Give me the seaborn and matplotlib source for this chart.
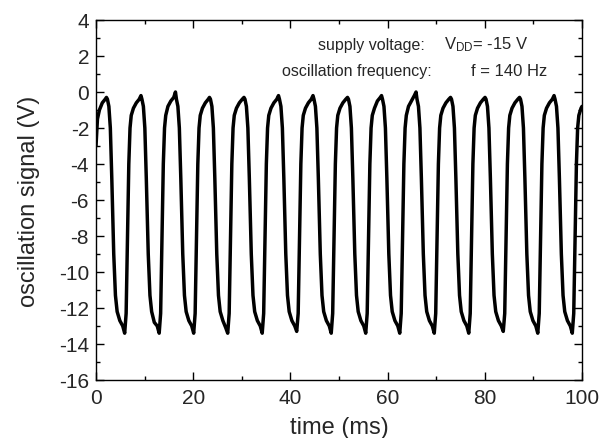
import matplotlib
matplotlib.use("Agg")
import matplotlib.pyplot as plt
from matplotlib.ticker import MultipleLocator
import seaborn as sns
import pandas as pd

# Oscillation trace (time in ms, signal in V), one cycle per line
time_ms = [
    0.00, 0.30, 0.70, 1.30, 1.90,
    2.15, 2.35, 2.65, 2.95, 3.25, 3.65, 4.00, 4.35, 4.90, 5.50, 5.90, 6.20, 6.45, 6.75, 7.00, 7.25, 7.70, 8.30, 8.90,
    9.25, 9.45, 9.75, 10.05, 10.35, 10.75, 11.10, 11.45, 12.00, 12.60, 13.00, 13.30, 13.55, 13.85, 14.10, 14.35, 14.80, 15.40, 16.00,
    16.35, 16.55, 16.85, 17.15, 17.45, 17.85, 18.20, 18.55, 19.10, 19.70, 20.10, 20.40, 20.65, 20.95, 21.20, 21.45, 21.90, 22.50, 23.10,
    23.35, 23.55, 23.85, 24.15, 24.45, 24.85, 25.20, 25.55, 26.10, 26.70, 27.10, 27.40, 27.65, 27.95, 28.20, 28.45, 28.90, 29.50, 30.10,
    30.45, 30.65, 30.95, 31.25, 31.55, 31.95, 32.30, 32.65, 33.20, 33.80, 34.20, 34.50, 34.75, 35.05, 35.30, 35.55, 36.00, 36.60, 37.20,
    37.55, 37.75, 38.05, 38.35, 38.65, 39.05, 39.40, 39.75, 40.30, 40.90, 41.30, 41.60, 41.85, 42.15, 42.40, 42.65, 43.10, 43.70, 44.30,
    44.65, 44.85, 45.15, 45.45, 45.75, 46.15, 46.50, 46.85, 47.40, 48.00, 48.40, 48.70, 48.95, 49.25, 49.50, 49.75, 50.20, 50.80, 51.40,
    51.75, 51.95, 52.25, 52.55, 52.85, 53.25, 53.60, 53.95, 54.50, 55.10, 55.50, 55.80, 56.05, 56.35, 56.60, 56.85, 57.30, 57.90, 58.50,
    58.75, 58.95, 59.25, 59.55, 59.85, 60.25, 60.60, 60.95, 61.50, 62.10, 62.50, 62.80, 63.05, 63.35, 63.60, 63.85, 64.30, 64.90, 65.50,
    65.85, 66.05, 66.35, 66.65, 66.95, 67.35, 67.70, 68.05, 68.60, 69.20, 69.60, 69.90, 70.15, 70.45, 70.70, 70.95, 71.40, 72.00, 72.60,
    72.95, 73.15, 73.45, 73.75, 74.05, 74.45, 74.80, 75.15, 75.70, 76.30, 76.70, 77.00, 77.25, 77.55, 77.80, 78.05, 78.50, 79.10, 79.70,
    80.05, 80.25, 80.55, 80.85, 81.15, 81.55, 81.90, 82.25, 82.80, 83.40, 83.80, 84.10, 84.35, 84.65, 84.90, 85.15, 85.60, 86.20, 86.80,
    87.15, 87.35, 87.65, 87.95, 88.25, 88.65, 89.00, 89.35, 89.90, 90.50, 90.90, 91.20, 91.45, 91.75, 92.00, 92.25, 92.70, 93.30, 93.90,
    94.25, 94.45, 94.75, 95.05, 95.35, 95.75, 96.10, 96.45, 97.00, 97.60, 98.00, 98.30, 98.55, 98.85, 99.10, 99.35, 99.80, 100.00,
]
signal_v = [
    -3.0, -1.5, -1.0, -0.6, -0.4,
    -0.3, -0.4, -0.8, -2.0, -4.8, -9.0, -11.3, -12.2, -12.7, -13.0, -13.4, -12.3, -8.5, -4.0, -2.0, -1.3, -0.9, -0.6, -0.4,
    -0.2, -0.4, -0.8, -2.0, -4.8, -9.0, -11.3, -12.2, -12.8, -13.0, -13.4, -12.3, -8.5, -4.0, -2.0, -1.3, -0.8, -0.5, -0.3,
    0.0, -0.4, -0.8, -2.0, -4.8, -9.0, -11.3, -12.2, -12.7, -13.0, -13.4, -12.3, -8.5, -4.0, -2.0, -1.3, -0.9, -0.6, -0.4,
    -0.3, -0.4, -0.8, -2.0, -4.8, -9.0, -11.3, -12.2, -12.7, -13.1, -13.4, -12.3, -8.5, -4.0, -2.0, -1.3, -0.9, -0.6, -0.4,
    -0.3, -0.4, -0.8, -2.0, -4.8, -9.0, -11.3, -12.2, -12.7, -13.0, -13.4, -12.3, -8.5, -4.0, -2.0, -1.3, -0.9, -0.6, -0.4,
    -0.2, -0.4, -0.8, -2.0, -4.8, -9.0, -11.3, -12.2, -12.7, -13.0, -13.3, -12.3, -8.5, -4.0, -2.0, -1.3, -0.9, -0.6, -0.4,
    -0.2, -0.4, -0.8, -2.0, -4.8, -9.0, -11.3, -12.2, -12.7, -13.0, -13.4, -12.3, -8.5, -4.0, -2.0, -1.3, -0.9, -0.6, -0.4,
    -0.3, -0.4, -0.8, -2.0, -4.8, -9.0, -11.3, -12.2, -12.7, -13.0, -13.4, -12.3, -8.5, -4.0, -2.0, -1.3, -0.9, -0.5, -0.3,
    -0.2, -0.4, -0.8, -2.0, -4.8, -9.0, -11.3, -12.2, -12.7, -13.0, -13.4, -12.3, -8.5, -4.0, -2.0, -1.3, -0.8, -0.5, -0.2,
    0.0, -0.4, -0.8, -2.0, -4.8, -9.0, -11.3, -12.2, -12.7, -13.0, -13.4, -12.3, -8.5, -4.0, -2.0, -1.3, -0.9, -0.6, -0.4,
    -0.3, -0.4, -0.8, -2.0, -4.8, -9.0, -11.3, -12.2, -12.7, -13.0, -13.4, -12.3, -8.5, -4.0, -2.0, -1.3, -0.9, -0.6, -0.4,
    -0.3, -0.4, -0.8, -2.0, -4.8, -9.0, -11.3, -12.2, -12.7, -13.0, -13.3, -12.3, -8.5, -4.0, -2.0, -1.3, -0.9, -0.6, -0.4,
    -0.3, -0.4, -0.8, -2.0, -4.8, -9.0, -11.3, -12.2, -12.7, -13.0, -13.4, -12.3, -8.5, -4.0, -2.0, -1.3, -0.9, -0.6, -0.4,
    -0.2, -0.4, -0.8, -2.0, -4.8, -9.0, -11.3, -12.2, -12.7, -13.0, -13.4, -12.3, -8.5, -4.0, -2.0, -1.3, -0.9, -0.8,
]

x_ticks = [0, 20, 40, 60, 80, 100]
y_ticks = [-16, -14, -12, -10, -8, -6, -4, -2, 0, 2, 4]

sns.set_style("ticks")
plt.rcParams["font.family"] = ["Liberation Sans", "DejaVu Sans"]
plt.rcParams["mathtext.fontset"] = "custom"
plt.rcParams["mathtext.rm"] = "Liberation Sans"
plt.rcParams["axes.unicode_minus"] = False

df = pd.DataFrame({"time": time_ms, "signal": signal_v})

fig = plt.figure(figsize=(6.03, 4.39), dpi=100)
ax = fig.add_axes([96 / 603, 58 / 439, 486 / 603, 360 / 439])

sns.lineplot(data=df, x="time", y="signal", ax=ax, color="black",
             linewidth=2.5, estimator=None, sort=False)

ax.set_xlim(0, 100)
ax.set_ylim(-16, 4)
ax.set_xticks(x_ticks)
ax.set_yticks(y_ticks)
ax.xaxis.set_minor_locator(MultipleLocator(10))
ax.yaxis.set_minor_locator(MultipleLocator(1))
ax.tick_params(which="both", direction="in", top=True, right=True, width=1, color="black")
ax.tick_params(which="major", length=6, labelsize=15)
ax.tick_params(axis="x", which="major", pad=6)
ax.tick_params(axis="y", which="major", pad=5)
ax.tick_params(which="minor", length=3)
for s in ax.spines.values():
    s.set_linewidth(1)
    s.set_color("black")

ax.set_xlabel("time (ms)", fontsize=17)
ax.set_ylabel("oscillation signal (V)", fontsize=17)
ax.xaxis.set_label_coords(0.5, -0.1)
ax.yaxis.set_label_coords(-0.115, 0.5)

# annotation block (axes fraction positions)
ax.text(0.677, 0.933, "supply voltage:", transform=ax.transAxes,
        ha="right", va="center", fontsize=11.5)
ax.text(0.8035, 0.933, r"$\mathregular{V_{DD}}$= -15 V", transform=ax.transAxes,
        ha="center", va="center", fontsize=12)
ax.text(0.691, 0.86, "oscillation frequency:", transform=ax.transAxes,
        ha="right", va="center", fontsize=11.5)
ax.text(0.851, 0.86, "f = 140 Hz", transform=ax.transAxes,
        ha="center", va="center", fontsize=12)

fig.savefig("out.png", dpi=100)
